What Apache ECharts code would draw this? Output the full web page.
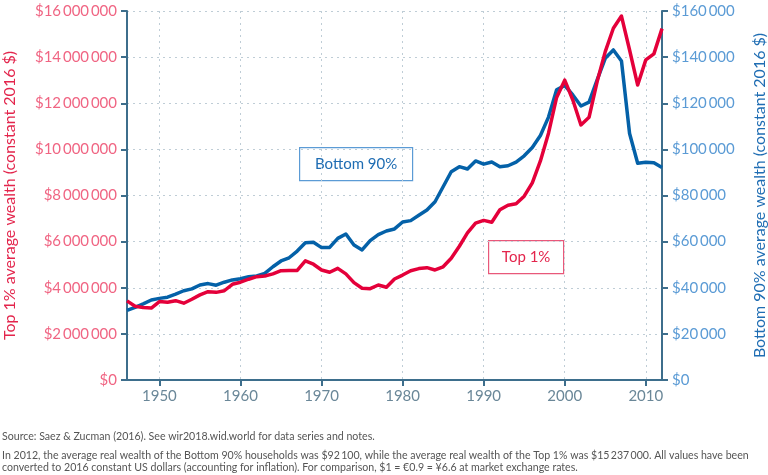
<!DOCTYPE html>
<html>
<head>
<meta charset="utf-8">
<script src="https://cdn.jsdelivr.net/npm/echarts@6/dist/echarts.min.js"></script>
<style>
  html, body { margin: 0; padding: 0; background: #fff; }
  #chart { width: 768px; height: 475px; }
</style>
</head>
<body>
<div id="chart"></div>
<script>
// years on the x axis
var years = [];
for (var y = 1946; y <= 2012; y++) years.push(String(y));

// Top 1% average wealth, constant 2016 $ (millions)
var top1 = [
  3.43, 3.20, 3.14, 3.12, 3.40, 3.37, 3.44, 3.33, 3.50, 3.69,
  3.83, 3.80, 3.87, 4.15, 4.24, 4.37, 4.48, 4.51, 4.60, 4.74,
  4.75, 4.75, 5.17, 5.02, 4.77, 4.67, 4.84, 4.60, 4.22, 3.98,
  3.96, 4.12, 4.02, 4.38, 4.55, 4.74, 4.83, 4.87, 4.77, 4.91,
  5.28, 5.80, 6.38, 6.80, 6.92, 6.84, 7.38, 7.58, 7.64, 7.97,
  8.55, 9.50, 10.70, 12.25, 13.00, 12.14, 11.06, 11.39, 12.94, 14.24,
  15.25, 15.78, 14.31, 12.79, 13.88, 14.14, 15.237
];

// Bottom 90% average wealth, constant 2016 $ (thousands)
var bottom90 = [
  30.2, 31.5, 33.0, 34.7, 35.4, 35.9, 37.2, 38.7, 39.5, 41.2,
  41.8, 41.1, 42.4, 43.4, 43.9, 44.8, 45.1, 46.2, 49.1, 51.6,
  53.0, 55.9, 59.5, 59.7, 57.4, 57.5, 61.4, 63.3, 58.5, 56.4,
  60.4, 63.0, 64.6, 65.5, 68.5, 69.1, 71.4, 73.7, 77.3, 83.8,
  90.3, 92.5, 91.5, 95.0, 93.6, 94.5, 92.5, 92.9, 94.5, 97.2,
  100.8, 106.0, 114.0, 125.8, 127.7, 123.6, 118.8, 120.5, 130.1, 139.5,
  143.1, 138.3, 106.9, 94.0, 94.4, 94.2, 92.1
];

var labelYears = ['1950', '1960', '1970', '1980', '1990', '2000', '2010'];

var sourceNote = 'Source: Saez & Zucman (2016). See wir2018.wid.world for data series and notes.';
var noteLine1 = 'In 2012, the average real wealth of the Bottom 90% households was $92\u2009100, while the average real wealth of the Top 1% was $15\u2009237\u2009000. All values have been';
var noteLine2 = 'converted to 2016 constant US dollars (accounting for inflation). For comparison, $1 = \u20ac0.9 = \u00a56.6 at market exchange rates.';

var RED = '#e4003a';
var BLUE = '#0461a8';
var AXIS = '#3d6e8c';
var FONT = 'Lato';

// "$16 000 000" style
function money(v) {
  var s = String(Math.round(v));
  s = s.replace(/\B(?=(\d{3})+(?!\d))/g, '\u2009');
  return '$' + s;
}

function isDecade(idx, val) {
  return labelYears.indexOf(String(val)) >= 0;
}

var chart = echarts.init(document.getElementById('chart'), null, { renderer: 'canvas' });

var option = {
  animation: false,
  textStyle: { fontFamily: FONT },
  grid: { left: 127, right: 106, top: 11, bottom: 95, containLabel: false, outerBoundsMode: 'none' },
  xAxis: {
    type: 'category',
    data: years,
    boundaryGap: false,
    axisLine: { lineStyle: { color: AXIS, width: 2 } },
    axisTick: { interval: isDecade, length: 6, lineStyle: { color: AXIS, width: 2 } },
    axisLabel: { interval: isDecade, color: '#6a8798', fontSize: 15, margin: 9, fontFamily: FONT },
    splitLine: { show: true, interval: isDecade, lineStyle: { color: '#bfcdd6', type: [2, 4], width: 1 } }
  },
  yAxis: [
    {
      type: 'value',
      min: 0, max: 16000000, interval: 2000000,
      name: 'Top 1% average wealth (constant 2016 $)',
      nameLocation: 'middle',
      nameGap: 109,
      nameTextStyle: { color: '#e3254c', fontSize: 16, fontFamily: FONT },
      axisLine: { show: true, lineStyle: { color: AXIS, width: 2 } },
      axisTick: { show: true, length: 6, lineStyle: { color: AXIS, width: 2 } },
      axisLabel: { color: '#f06583', fontSize: 15, margin: 10, fontFamily: FONT, formatter: money },
      splitLine: { show: true, lineStyle: { color: '#bfcdd6', type: [2, 4], width: 1 } }
    },
    {
      type: 'value',
      min: 0, max: 160000, interval: 20000,
      position: 'right',
      name: 'Bottom 90% average wealth (constant 2016 $)',
      nameLocation: 'middle',
      nameGap: 90,
      nameRotate: 90,
      nameTextStyle: { color: '#1f6db3', fontSize: 16, fontFamily: FONT },
      axisLine: { show: true, lineStyle: { color: AXIS, width: 2 } },
      axisTick: { show: true, length: 6, lineStyle: { color: AXIS, width: 2 } },
      axisLabel: { color: '#5b9bd5', fontSize: 15, margin: 10, fontFamily: FONT, formatter: money },
      splitLine: { show: false }
    }
  ],
  series: [
    {
      name: 'Bottom 90%',
      type: 'line',
      yAxisIndex: 1,
      data: bottom90.map(function (v) { return v * 1000; }),
      showSymbol: false,
      lineStyle: { color: BLUE, width: 3.5, join: 'round' },
      z: 2
    },
    {
      name: 'Top 1%',
      type: 'line',
      yAxisIndex: 0,
      data: top1.map(function (v) { return v * 1000000; }),
      showSymbol: false,
      lineStyle: { color: RED, width: 3.5, join: 'round' },
      z: 3
    }
  ],
  graphic: [
    // series labels
    {
      type: 'group', left: 299, top: 147,
      children: [
        { type: 'rect', shape: { x: 0, y: 0, width: 113, height: 33 },
          style: { fill: '#fff', stroke: '#5b9bd5', lineWidth: 1.2 } },
        { type: 'text', x: 56.5, y: 16.5,
          style: { text: 'Bottom 90%', fill: '#1f6db3', fontSize: 15, fontFamily: FONT, align: 'center', verticalAlign: 'middle' } }
      ]
    },
    {
      type: 'group', left: 488, top: 240,
      children: [
        { type: 'rect', shape: { x: 0, y: 0, width: 75, height: 33 },
          style: { fill: '#fff', stroke: '#e8587a', lineWidth: 1.2 } },
        { type: 'text', x: 37.5, y: 16.5,
          style: { text: 'Top 1%', fill: '#e3254c', fontSize: 15, fontFamily: FONT, align: 'center', verticalAlign: 'middle' } }
      ]
    },
    // footnotes
    { type: 'text', left: 2, top: 431,
      style: { text: sourceNote, fill: '#555', fontSize: 10.6, fontFamily: FONT } },
    { type: 'text', left: 2, top: 450,
      style: { text: noteLine1, fill: '#555', fontSize: 10.6, fontFamily: FONT } },
    { type: 'text', left: 2, top: 462,
      style: { text: noteLine2, fill: '#555', fontSize: 10.6, fontFamily: FONT } }
  ]
};

chart.setOption(option);
</script>
</body>
</html>
